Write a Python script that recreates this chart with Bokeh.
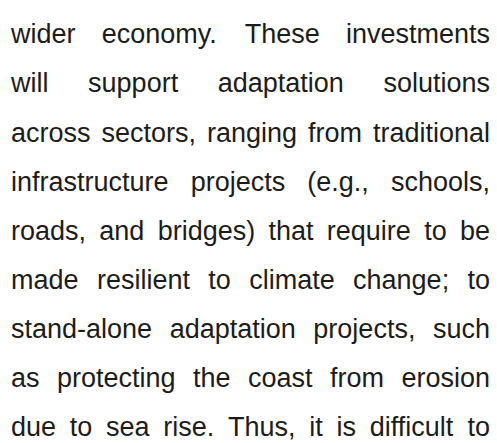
from bokeh.plotting import figure
from bokeh.models import Range1d, ColumnDataSource
from bokeh.core.properties import value
from bokeh.embed import file_html
from bokeh.resources import INLINE

# Text content (one entry per printed line of the justified paragraph)
lines = [
    "wider economy. These investments",
    "will support adaptation solutions",
    "across sectors, ranging from traditional",
    "infrastructure projects (e.g., schools,",
    "roads, and bridges) that require to be",
    "made resilient to climate change; to",
    "stand-alone adaptation projects, such",
    "as protecting the coast from erosion",
    "due to sea rise. Thus, it is difficult to",
]
line_index = list(range(len(lines)))

# Style / layout
FONT = "Liberation Sans"
FONT_PX = 27
COLOR = "#1c1c1c"
LEFT, RIGHT = 10.5, 489.5
BASE0, STEP = 33.8, 49.1

# Arial / Liberation Sans advance widths (units per 1000 em)
ADV = {
    " ": 278, "(": 333, ")": 333, ",": 278, "-": 333, ".": 278, ";": 278,
    "a": 556, "b": 556, "c": 500, "d": 556, "e": 556, "f": 278, "g": 556,
    "h": 556, "i": 222, "j": 222, "k": 500, "l": 222, "m": 833, "n": 556,
    "o": 556, "p": 556, "q": 556, "r": 333, "s": 500, "t": 278, "u": 556,
    "v": 500, "w": 722, "x": 500, "y": 500, "z": 500, "T": 611,
}


def tw(s):
    return sum(ADV.get(c, 556) for c in s) * FONT_PX / 1000.0


lx, ly, lt = [], [], []
rx, ry, rt = [], [], []
for i in line_index:
    words = lines[i].split(" ")
    total = sum(tw(w) for w in words)
    gap = (RIGHT - LEFT - total) / (len(words) - 1)
    y = BASE0 + i * STEP
    x = LEFT
    for j, w in enumerate(words):
        if j == len(words) - 1:
            rx.append(RIGHT); ry.append(y); rt.append(w)
        else:
            lx.append(x); ly.append(y); lt.append(w)
        x += tw(w) + gap

p = figure(width=497, height=443,
           x_range=Range1d(0, 497), y_range=Range1d(443, 0),
           x_axis_type=None, y_axis_type=None,
           output_backend="svg", toolbar_location=None, min_border=0)
p.grid.visible = False
p.outline_line_color = None
p.background_fill_color = "white"
p.border_fill_color = "white"

src_l = ColumnDataSource(dict(x=lx, y=ly, t=lt))
src_r = ColumnDataSource(dict(x=rx, y=ry, t=rt))
common = dict(text="t", text_font=value(FONT), text_font_size=f"{FONT_PX}px",
              text_color=COLOR, text_baseline="alphabetic")
p.text(x="x", y="y", source=src_l, text_align="left", **common)
p.text(x="x", y="y", source=src_r, text_align="right", **common)

open("out.html", "w").write(file_html(p, INLINE))
